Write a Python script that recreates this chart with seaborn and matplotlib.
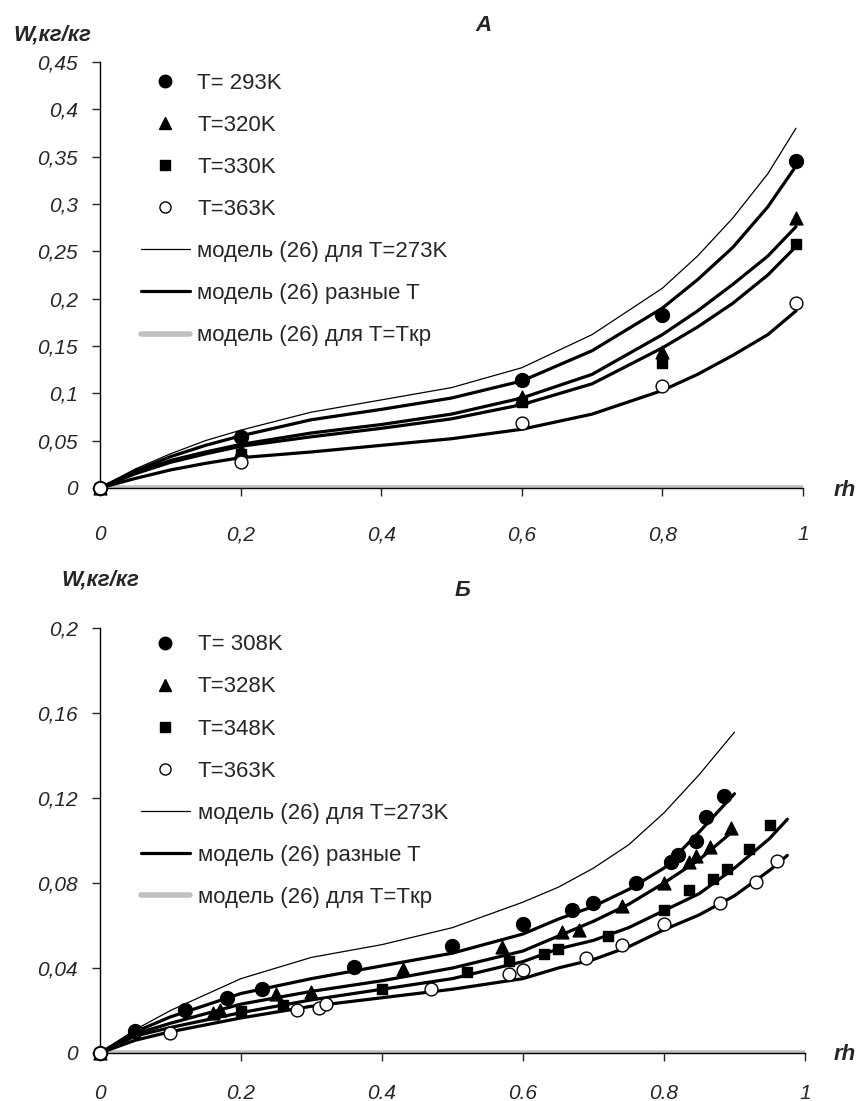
import matplotlib
matplotlib.use("Agg")
import matplotlib.pyplot as plt
from matplotlib.lines import Line2D
import seaborn as sns

sns.set_style("white")
plt.rcParams['font.family'] = ['Liberation Sans', 'DejaVu Sans']

# ---- panel A: measured points ----
rh_a = [0, 0.2, 0.6, 0.8, 0.99]
w_a_293 = [0, 0.054, 0.114, 0.183, 0.345]
w_a_320 = [0, 0.040, 0.096, 0.144, 0.285]
w_a_330 = [0, 0.036, 0.091, 0.132, 0.258]
w_a_363 = [0, 0.027, 0.069, 0.108, 0.195]

# ---- panel A: model curves ----
rh_a_model = [0, 0.05, 0.1, 0.15, 0.2, 0.3, 0.4, 0.5, 0.6, 0.7, 0.8, 0.85, 0.9, 0.95, 0.99]
m_a_273 = [0, 0.020, 0.036, 0.050, 0.061, 0.080, 0.093, 0.106, 0.127, 0.162, 0.211, 0.245, 0.285, 0.332, 0.380]
m_a_293 = [0, 0.018, 0.033, 0.045, 0.055, 0.072, 0.083, 0.095, 0.113, 0.145, 0.190, 0.220, 0.254, 0.297, 0.340]
m_a_320 = [0, 0.016, 0.029, 0.038, 0.046, 0.058, 0.067, 0.078, 0.095, 0.120, 0.162, 0.187, 0.215, 0.245, 0.276]
m_a_330 = [0, 0.015, 0.027, 0.036, 0.044, 0.054, 0.063, 0.073, 0.088, 0.110, 0.148, 0.170, 0.195, 0.225, 0.255]
m_a_363 = [0, 0.010, 0.019, 0.026, 0.032, 0.038, 0.045, 0.052, 0.062, 0.078, 0.103, 0.120, 0.140, 0.162, 0.187]

# ---- panel B: measured points ----
rh_b_308 = [0, 0.05, 0.12, 0.18, 0.23, 0.36, 0.50, 0.60, 0.67, 0.70, 0.76, 0.81, 0.82, 0.845, 0.86, 0.885]
w_b_308 = [0, 0.0105, 0.020, 0.026, 0.030, 0.0405, 0.0505, 0.0605, 0.0675, 0.0705, 0.080, 0.090, 0.093, 0.100, 0.111, 0.121]
rh_b_328 = [0, 0.16, 0.17, 0.25, 0.30, 0.43, 0.57, 0.655, 0.68, 0.74, 0.80, 0.835, 0.845, 0.865, 0.895]
w_b_328 = [0, 0.019, 0.020, 0.0277, 0.0288, 0.0395, 0.050, 0.057, 0.058, 0.069, 0.080, 0.090, 0.0925, 0.097, 0.106]
rh_b_348 = [0, 0.20, 0.26, 0.40, 0.52, 0.58, 0.63, 0.65, 0.72, 0.80, 0.835, 0.87, 0.89, 0.92, 0.95]
w_b_348 = [0, 0.0198, 0.0226, 0.030, 0.038, 0.0433, 0.0466, 0.049, 0.055, 0.0673, 0.0767, 0.082, 0.0866, 0.096, 0.1075]
rh_b_363 = [0, 0.10, 0.28, 0.31, 0.32, 0.47, 0.58, 0.60, 0.69, 0.74, 0.80, 0.88, 0.93, 0.96]
w_b_363 = [0, 0.0095, 0.020, 0.021, 0.023, 0.030, 0.037, 0.039, 0.0447, 0.0508, 0.0607, 0.0706, 0.0805, 0.0904]

# ---- panel B: model curves ----
rh_b_model = [0, 0.05, 0.1, 0.2, 0.3, 0.4, 0.5, 0.6, 0.65, 0.7, 0.75, 0.8, 0.85, 0.9]
rh_b_model_long = rh_b_model + [0.95, 0.975]
m_b_273 = [0, 0.011, 0.020, 0.035, 0.045, 0.051, 0.059, 0.071, 0.078, 0.087, 0.098, 0.113, 0.131, 0.151]
m_b_308 = [0, 0.010, 0.017, 0.028, 0.035, 0.041, 0.047, 0.056, 0.063, 0.069, 0.077, 0.087, 0.104, 0.122]
m_b_328 = [0, 0.009, 0.014, 0.023, 0.029, 0.034, 0.040, 0.048, 0.055, 0.062, 0.070, 0.080, 0.091, 0.105]
m_b_348 = [0, 0.008, 0.012, 0.019, 0.025, 0.030, 0.035, 0.043, 0.049, 0.053, 0.059, 0.067, 0.075, 0.087, 0.101, 0.110]
m_b_363 = [0, 0.006, 0.010, 0.0165, 0.022, 0.026, 0.030, 0.035, 0.040, 0.044, 0.050, 0.058, 0.065, 0.074, 0.086, 0.093]

# ---- axis ticks ----
a_yticks = [0, 0.05, 0.1, 0.15, 0.2, 0.25, 0.3, 0.35, 0.4, 0.45]
a_ylabels = ['0', '0,05', '0,1', '0,15', '0,2', '0,25', '0,3', '0,35', '0,4', '0,45']
a_xlabels = ['0', '0,2', '0,4', '0,6', '0,8', '1']
b_yticks = [0, 0.04, 0.08, 0.12, 0.16, 0.2]
b_ylabels = ['0', '0,04', '0,08', '0,12', '0,16', '0,2']
b_xlabels = ['0', '0.2', '0.4', '0.6', '0.8', '1']
xticks = [0, 0.2, 0.4, 0.6, 0.8, 1]

a_point_labels = ['T= 293K', 'T=320K', 'T=330K', 'T=363K']
b_point_labels = ['T= 308K', 'T=328K', 'T=348K', 'T=363K']
model_labels = ['модель (26) для T=273K', 'модель (26) разные T', 'модель (26) для T=Tкр']

GRAY = '#c0c0c0'
THIN = 0.9
THICK = 2.3


def draw_panel(ax, pts, thin_curve, thick_curves, yticks, ylabels, xlabels, ymax, xpad):
    # critical-temperature model: zero line along the axis
    sns.lineplot(x=[0, 1], y=[0, 0], ax=ax, color=GRAY, linewidth=4, zorder=2)
    sns.lineplot(x=thin_curve[0], y=thin_curve[1], ax=ax, color='black',
                 linewidth=THIN, sort=False, estimator=None, zorder=3)
    for xs, ys in thick_curves:
        sns.lineplot(x=xs, y=ys, ax=ax, color='black', linewidth=THICK,
                     sort=False, estimator=None, zorder=3)

    styles = [('o', 'black', 100), ('^', 'black', 85), ('s', 'black', 55), ('o', 'white', 85)]
    for (xs, ys), (mk, fc, s) in zip(pts, styles):
        sns.scatterplot(x=xs, y=ys, ax=ax, marker=mk, s=s, color=fc,
                        edgecolor='black', linewidth=1.0, zorder=4, clip_on=False)

    ax.set_xlim(0, 1)
    ax.set_ylim(0, ymax)
    ax.set_xticks(xticks)
    ax.set_xticklabels(xlabels, fontsize=15, fontstyle='italic')
    ax.set_yticks(yticks)
    ax.set_yticklabels(ylabels, fontsize=15, fontstyle='italic')
    ax.tick_params(axis='y', direction='out', length=6, width=1, pad=10, left=True)
    ax.tick_params(axis='x', direction='out', length=6, width=1, pad=xpad, bottom=True)
    for side in ['top', 'right']:
        ax.spines[side].set_visible(False)
    for side in ['left', 'bottom']:
        ax.spines[side].set_color('black')
        ax.spines[side].set_linewidth(1)
    ax.grid(False)


fig = plt.figure(figsize=(8.59, 11.01), dpi=100)
ax_a = fig.add_axes([0.1164, 0.5568, 0.8184, 0.3869])
ax_b = fig.add_axes([0.1164, 0.0436, 0.8207, 0.3860])

draw_panel(ax_a,
           [(rh_a, w_a_293), (rh_a, w_a_320), (rh_a, w_a_330), (rh_a, w_a_363)],
           (rh_a_model, m_a_273),
           [(rh_a_model, m_a_293), (rh_a_model, m_a_320), (rh_a_model, m_a_330), (rh_a_model, m_a_363)],
           a_yticks, a_ylabels, a_xlabels, 0.45, 21)

draw_panel(ax_b,
           [(rh_b_308, w_b_308), (rh_b_328, w_b_328), (rh_b_348, w_b_348), (rh_b_363, w_b_363)],
           (rh_b_model, m_b_273),
           [(rh_b_model, m_b_308), (rh_b_model, m_b_328), (rh_b_model_long, m_b_348), (rh_b_model_long, m_b_363)],
           b_yticks, b_ylabels, b_xlabels, 0.2, 16)


def make_legend(ax, point_labels, anchor):
    handles = [
        Line2D([], [], linestyle='none', marker='o', color='black', markersize=9),
        Line2D([], [], linestyle='none', marker='^', color='black', markersize=8),
        Line2D([], [], linestyle='none', marker='s', color='black', markersize=7),
        Line2D([], [], linestyle='none', marker='o', markerfacecolor='white',
               markeredgecolor='black', markersize=8),
        Line2D([], [], color='black', linewidth=THIN),
        Line2D([], [], color='black', linewidth=THICK),
        Line2D([], [], color=GRAY, linewidth=4),
    ]
    ax.legend(handles, point_labels + model_labels, loc='upper left',
              bbox_to_anchor=anchor, frameon=False, fontsize=16,
              handlelength=2.2, handletextpad=0.35, labelspacing=0.95,
              borderpad=0, borderaxespad=0)


make_legend(ax_a, a_point_labels, (0.058, 0.975))
make_legend(ax_b, b_point_labels, (0.058, 0.985))

# axis captions and panel letters
fig.text(0.015, 0.968, 'W,кг/кг', fontsize=16, fontweight='bold', fontstyle='italic', va='center')
fig.text(0.563, 0.977, 'А', fontsize=16, fontweight='bold', fontstyle='italic', ha='center', va='center')
fig.text(0.970, 1 - 490 / 1101, 'rh', fontsize=16, fontweight='bold', fontstyle='italic', va='center')

fig.text(0.072, 0.473, 'W,кг/кг', fontsize=16, fontweight='bold', fontstyle='italic', va='center')
fig.text(0.538, 0.464, 'Б', fontsize=16, fontweight='bold', fontstyle='italic', ha='center', va='center')
fig.text(0.970, 1 - 1055 / 1101, 'rh', fontsize=16, fontweight='bold', fontstyle='italic', va='center')

fig.savefig('out.png', dpi=100)
plt.close(fig)
